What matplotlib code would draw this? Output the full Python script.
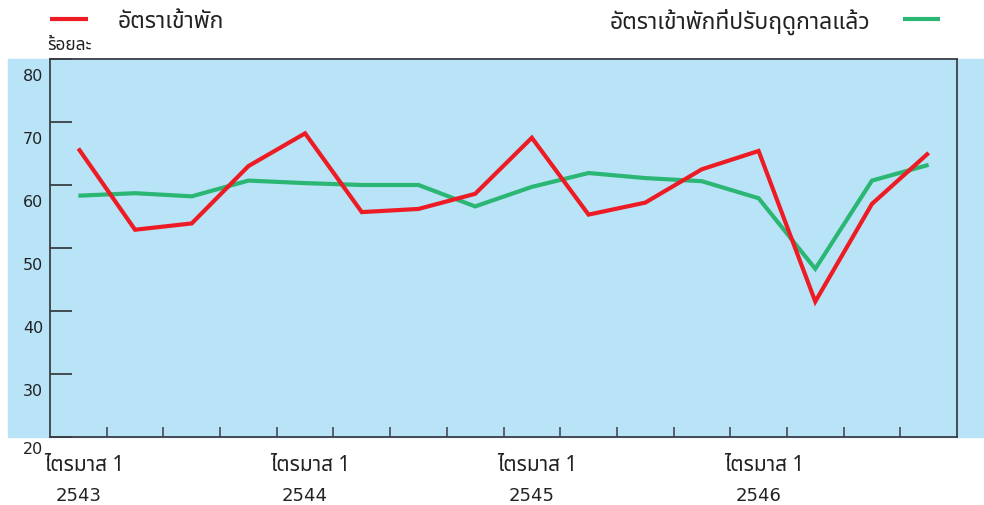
import matplotlib
matplotlib.use("Agg")
import matplotlib.pyplot as plt
from matplotlib.lines import Line2D
from matplotlib.patches import Rectangle
from matplotlib.transforms import ScaledTranslation, blended_transform_factory

# occupancy rate and seasonally adjusted occupancy rate, quarterly 2543-2546
occupancy = [65.8, 52.9, 53.9, 63.0, 68.2, 55.7, 56.2, 58.6,
             67.5, 55.3, 57.2, 62.5, 65.4, 41.5, 57.0, 65.1]
adjusted = [58.3, 58.7, 58.2, 60.7, 60.3, 60.0, 60.0, 56.6,
            59.7, 61.9, 61.1, 60.6, 57.9, 46.7, 60.7, 63.2]
year_labels = ["2543", "2544", "2545", "2546"]
quarter_label = "ไตรมาส 1"
yticks = [20, 30, 40, 50, 60, 70, 80]

plt.rcParams['font.family'] = ['Noto Sans Thai', 'DejaVu Sans']

red = "#ED1C24"
green = "#2BB673"
blue = "#B9E4F8"
dark = "#3A3F44"
txt = "#222222"

W, H = 984, 506
fig = plt.figure(figsize=(W / 100, H / 100), dpi=100)

# blue panel behind the axes, runs on to the right edge
fig.patches.append(Rectangle((8 / W, (H - 438) / H), 1 - 8 / W, (438 - 60) / H,
                             transform=fig.transFigure, color=blue, zorder=-5))

ax = fig.add_axes([50 / W, (H - 438) / H, 907 / W, 378 / H])
ax.set_zorder(2)
ax.set_facecolor(blue)

x = [i + 0.5 for i in range(len(occupancy))]
ax.plot(x, adjusted, color=green, lw=3, solid_capstyle='butt', solid_joinstyle='miter')
ax.plot(x, occupancy, color=red, lw=3, solid_capstyle='butt', solid_joinstyle='miter')

ax.set_xlim(0, len(occupancy))
ax.set_ylim(20, 80)
ax.set_xticks(range(1, len(occupancy)))
ax.set_xticklabels([])
ax.set_yticks(yticks)
ax.set_yticklabels([str(v) for v in yticks], family='DejaVu Sans')

for s in ax.spines.values():
    s.set_color(dark)
    s.set_linewidth(1.3)

ax.tick_params(axis='y', direction='in', length=16, width=1.3, color=dark,
               pad=5, labelsize=11.5, labelcolor=txt)
ax.tick_params(axis='x', direction='in', length=7, width=1.1, color=dark)

# labels sit a little below their ticks
for lab in ax.get_yticklabels():
    dy = -10 if lab.get_text() == "20" else -15
    lab.set_transform(lab.get_transform() + ScaledTranslation(0, dy / 100, fig.dpi_scale_trans))

# quarter / year labels under the axis
trans = blended_transform_factory(ax.transData, fig.transFigure)
for k, yr in enumerate(year_labels):
    xp = 4 * k + 0.5
    ax.text(xp + 0.1, (H - 466) / H, quarter_label, transform=trans, ha='center',
            va='center', fontsize=15, color=txt, clip_on=False)
    ax.text(xp, (H - 496) / H, yr, transform=trans, ha='center', va='center',
            fontsize=13, color=txt, family='DejaVu Sans', clip_on=False)

# legend across the top
fig.add_artist(Line2D([50 / W, 88 / W], [(H - 20) / H] * 2, color=red, lw=3,
                      transform=fig.transFigure, solid_capstyle='butt'))
fig.text(118 / W, (H - 22) / H, "อัตราเข้าพัก", fontsize=16.5, va='center', ha='left',
         color=txt)
fig.add_artist(Line2D([903 / W, 940 / W], [(H - 20) / H] * 2, color=green, lw=3,
                      transform=fig.transFigure, solid_capstyle='butt'))
fig.text(870 / W, (H - 22) / H, "อัตราเข้าพักที่ปรับฤดูกาลแล้ว", fontsize=16.5, va='center',
         ha='right', color=txt)
fig.text(47 / W, (H - 45) / H, "ร้อยละ", fontsize=12.5, va='center',
         ha='left', color=txt)

fig.savefig("out.png", dpi=100)
